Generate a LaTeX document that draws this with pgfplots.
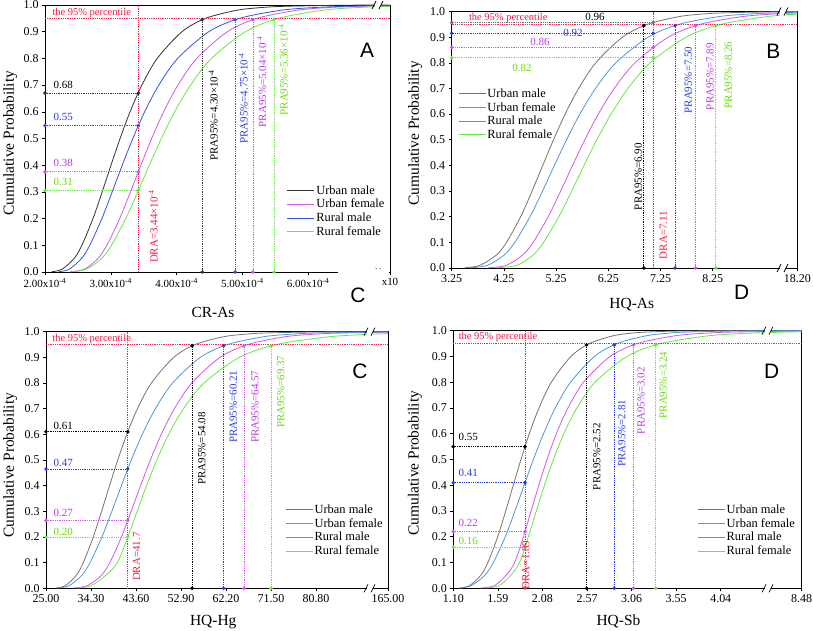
\documentclass[border=0pt]{standalone}
\usepackage{fontspec}
\setmainfont{Liberation Serif}
\newfontfamily\sansf{Liberation Sans}
\usepackage{pgfplots}
\pgfplotsset{compat=1.18}

\definecolor{cumA}{RGB}{50,50,50}
\definecolor{cumG}{RGB}{115,115,115}
\definecolor{cuf}{RGB}{205,90,235}
\definecolor{crmA}{RGB}{55,80,225}
\definecolor{crmB}{RGB}{80,150,220}
\definecolor{crf}{RGB}{105,230,70}
\definecolor{cred}{RGB}{240,40,80}
\definecolor{tmag}{RGB}{185,60,225}
\definecolor{tblu}{RGB}{40,60,220}
\definecolor{tgrn}{RGB}{110,215,20}
\definecolor{tred}{RGB}{240,30,70}

\newcommand{\fT}{\fontsize{12}{13}\selectfont}
\newcommand{\fL}{\fontsize{15.5}{17}\selectfont}
\newcommand{\fG}{\fontsize{12.5}{14}\selectfont}
\newcommand{\fN}{\fontsize{11}{12}\selectfont}
\newcommand{\fP}{\fontsize{10.5}{12}\selectfont}
\newcommand{\fB}{\sansf\fontsize{21}{24}\selectfont}
\newcommand{\sci}[1]{#1x10\textsuperscript{-4}}

\pgfplotsset{
 panel/.style={scale only axis, anchor=south west, ymin=0, ymax=1,
   ytick={0,0.1,0.2,0.3,0.4,0.5,0.6,0.7,0.8,0.9,1},
   yticklabels={0.0,0.1,0.2,0.3,0.4,0.5,0.6,0.7,0.8,0.9,1.0},
   tick align=outside, xtick pos=left, ytick pos=left,
   major tick length=3bp, tick style={black,line width=0.6pt},
   axis line style={line width=0.8pt},
   ticklabel style={font=\fT}, label style={font=\fL},
   clip=false,
   legend cell align=left,
   legend style={draw=none, fill=none, inner sep=0pt, row sep=0.5bp, font=\fG,
     anchor=north west, nodes={inner sep=1.5bp}},
   legend image code/.code={\draw[#1] (0bp,0bp) -- (27bp,0bp);},
 },
 cdf/.style={smooth, no marks, line width=0.8pt},
 red/.style={forget plot, densely dotted, cred, line width=0.8pt},
 hl/.style={forget plot, densely dotted, line width=0.8pt, mark=*, mark size=1.4pt, mark options={solid}},
}

\begin{document}
\begin{tikzpicture}
\useasboundingbox (0bp,0bp) rectangle (813bp,-631bp);

%%%%%%%%%%%%%%%% Panel A
\begin{axis}[panel, at={(45bp,-272bp)}, width=345bp, height=267bp,
  xmin=2, xmax=7.243,
  xtick={2,3,4,5,6,7.243},
  xticklabels={\sci{2.00},\sci{3.00},\sci{4.00},\sci{5.00},\sci{6.00},x10},
  xticklabel style={font=\fontsize{11}{12}\selectfont},
  xlabel={CR-As}, ylabel={Cumulative Probability},
  xlabel style={at={(axis description cs:0.487,-0.15)}, anchor=center},
  ylabel style={at={(axis description cs:-0.101,0.483)}, anchor=center},
  legend style={at={(0.701,0.33)}}]
\addplot[cdf, cumA] coordinates {(2.10,0.001) (2.255,0.01) (2.44,0.05) (2.56,0.1) (2.729,0.2) (2.869,0.3) (3.003,0.4) (3.141,0.5) (3.293,0.6) (3.472,0.7) (3.706,0.8) (4.081,0.9) (4.44,0.95) (4.909,0.98) (5.262,0.99) (5.62,0.995) (6.472,0.999) (7.243,1.0)};
\addlegendentry{Urban male}
\addplot[cdf, cuf] coordinates {(2.38,0.001) (2.596,0.01) (2.803,0.05) (2.94,0.1) (3.135,0.2) (3.299,0.3) (3.457,0.4) (3.621,0.5) (3.803,0.6) (4.02,0.7) (4.307,0.8) (4.771,0.9) (5.223,0.95) (5.818,0.98) (6.272,0.99) (6.738,0.995) (7.243,0.9976)};
\addlegendentry{Urban female}
\addplot[cdf, crmA] coordinates {(2.208,0.001) (2.363,0.01) (2.553,0.05) (2.68,0.1) (2.864,0.2) (3.021,0.3) (3.174,0.4) (3.335,0.5) (3.514,0.6) (3.73,0.7) (4.017,0.8) (4.489,0.9) (4.955,0.95) (5.576,0.98) (6.057,0.99) (6.552,0.995) (7.243,0.998)};
\addlegendentry{Rural male}
\addplot[cdf, crf] coordinates {(2.40,0.001) (2.627,0.01) (2.858,0.05) (3.01,0.1) (3.227,0.2) (3.41,0.3) (3.585,0.4) (3.768,0.5) (3.97,0.6) (4.212,0.7) (4.53,0.8) (5.046,0.9) (5.547,0.95) (6.207,0.98) (6.711,0.99) (7.243,0.995)};
\addlegendentry{Rural female}
\addplot[red] coordinates {(2,0.95) (7.243,0.95)};
\addplot[red] coordinates {(3.42,0) (3.42,1)};
\addplot[hl, cumA] coordinates {(2,0.67) (3.42,0.67)};
\addplot[hl, crmA] coordinates {(2,0.548) (3.42,0.548)};
\addplot[hl, cuf] coordinates {(2,0.375) (3.42,0.375)};
\addplot[hl, crf] coordinates {(2,0.306) (3.42,0.306)};
\addplot[hl, cumA] coordinates {(4.39,0) (4.39,0.945)};
\addplot[hl, crmA] coordinates {(4.89,0) (4.89,0.945)};
\addplot[hl, cuf] coordinates {(5.16,0) (5.16,0.945)};
\addplot[hl, crf] coordinates {(5.48,0) (5.48,0.945)};
\end{axis}

%%%%%%%%%%%%%%%% Panel B
\begin{axis}[panel, at={(451.7bp,-268bp)}, width=345.6bp, height=256.5bp,
  xmin=3.25, xmax=9.87,
  xtick={3.25,4.25,5.25,6.25,7.25,8.25,9.87},
  xticklabels={3.25,4.25,5.25,6.25,7.25,8.25,18.20},
  xlabel={HQ-As}, ylabel={Cumulative Probability},
  xlabel style={at={(axis description cs:0.521,-0.144)}, anchor=center},
  ylabel style={at={(axis description cs:-0.106,0.525)}, anchor=center},
  legend style={at={(0.018,0.706)}}]
\addplot[cdf, cumG] coordinates {(3.496,0.001) (3.784,0.01) (4.102,0.05) (4.30,0.1) (4.571,0.2) (4.789,0.3) (4.994,0.4) (5.20,0.5) (5.423,0.6) (5.681,0.7) (6.01,0.8) (6.522,0.9) (6.999,0.95) (7.602,0.98) (8.047,0.99) (8.488,0.995) (9.506,0.999) (9.87,1.0)};
\addlegendentry{Urban male}
\addplot[cdf, cuf] coordinates {(3.95,0.001) (4.289,0.01) (4.605,0.05) (4.81,0.1) (5.098,0.2) (5.337,0.3) (5.565,0.4) (5.8,0.5) (6.058,0.6) (6.363,0.7) (6.762,0.8) (7.399,0.9) (8.01,0.95) (8.806,0.98) (9.405,0.99) (9.87,0.994)};
\addlegendentry{Urban female}
\addplot[cdf, crmB] coordinates {(3.6,0.001) (3.929,0.01) (4.252,0.05) (4.46,0.1) (4.75,0.2) (4.99,0.3) (5.217,0.4) (5.45,0.5) (5.705,0.6) (6.005,0.7) (6.394,0.8) (7.013,0.9) (7.603,0.95) (8.364,0.98) (8.936,0.99) (9.512,0.995) (9.87,0.997)};
\addlegendentry{Rural male}
\addplot[cdf, crf] coordinates {(4.1,0.001) (4.492,0.01) (4.805,0.05) (5.01,0.1) (5.303,0.2) (5.548,0.3) (5.785,0.4) (6.03,0.5) (6.302,0.6) (6.625,0.7) (7.05,0.8) (7.739,0.9) (8.407,0.95) (9.285,0.98) (9.87,0.99)};
\addlegendentry{Rural female}
\addplot[red] coordinates {(3.25,0.95) (9.87,0.95)};
\addplot[red] coordinates {(7.11,0) (7.11,1)};
\addplot[hl, cumG] coordinates {(3.25,0.957) (7.11,0.957)};
\addplot[hl, tblu] coordinates {(3.25,0.915) (7.11,0.915)};
\addplot[hl, cuf] coordinates {(3.25,0.86) (7.11,0.86)};
\addplot[hl, crf] coordinates {(3.25,0.82) (7.11,0.82)};
\addplot[hl, black] coordinates {(6.93,0) (6.93,0.945)};
\addplot[hl, tblu] coordinates {(7.53,0) (7.53,0.945)};
\addplot[hl, cuf] coordinates {(7.92,0) (7.92,0.945)};
\addplot[hl, crf] coordinates {(8.31,0) (8.31,0.945)};
\end{axis}

%%%%%%%%%%%%%%%% Panel C
\begin{axis}[panel, at={(46bp,-588.3bp)}, width=342bp, height=256.6bp,
  xmin=25, xmax=95.68,
  xtick={25,34.3,43.6,52.9,62.2,71.5,80.8,95.68},
  xticklabels={25.00,34.30,43.60,52.90,62.20,71.50,80.80,165.00},
  xlabel={HQ-Hg}, ylabel={Cumulative Probability},
  xlabel style={at={(axis description cs:0.489,-0.13)}, anchor=center},
  ylabel style={at={(axis description cs:-0.105,0.48)}, anchor=center},
  legend style={at={(0.699,0.332)}}]
\addplot[cdf, cumG] coordinates {(27.0,0.001) (28.96,0.01) (31.23,0.05) (32.7,0.1) (34.77,0.2) (36.49,0.3) (38.14,0.4) (39.83,0.5) (41.7,0.6) (43.9,0.7) (46.78,0.8) (51.4,0.9) (55.82,0.95) (61.59,0.98) (65.94,0.99) (70.36,0.995) (80.86,0.999) (95.68,1.0)};
\addlegendentry{Urban male}
\addplot[cdf, cuf] coordinates {(30.5,0.001) (33.5,0.01) (36.4,0.05) (38.2,0.1) (40.58,0.2) (42.59,0.3) (44.54,0.4) (46.57,0.5) (48.83,0.6) (51.54,0.7) (55.12,0.8) (60.97,0.9) (66.69,0.95) (74.27,0.98) (80.09,0.99) (86.07,0.995) (95.68,0.998)};
\addlegendentry{Urban female}
\addplot[cdf, crmB] coordinates {(27.55,0.001) (29.75,0.01) (32.38,0.05) (34.1,0.1) (36.55,0.2) (38.61,0.3) (40.58,0.4) (42.63,0.5) (44.9,0.6) (47.61,0.7) (51.16,0.8) (56.91,0.9) (62.48,0.95) (69.8,0.98) (75.38,0.99) (81.07,0.995) (95.68,0.999)};
\addlegendentry{Rural male}
\addplot[cdf, crf] coordinates {(31.5,0.001) (34.3,0.01) (37.3,0.05) (39.75,0.1) (41.9,0.2) (43.83,0.3) (45.78,0.4) (47.9,0.5) (50.35,0.6) (53.41,0.7) (57.66,0.8) (64.97,0.9) (72.6,0.95) (83.32,0.98) (91.99,0.99) (95.68,0.9925)};
\addlegendentry{Rural female}
\addplot[red] coordinates {(25,0.95) (95.68,0.95)};
\addplot[red] coordinates {(41.9,0) (41.9,1)};
\addplot[hl, black] coordinates {(25,0.61) (41.9,0.61)};
\addplot[hl, tblu] coordinates {(25,0.465) (41.9,0.465)};
\addplot[hl, cuf] coordinates {(25,0.265) (41.9,0.265)};
\addplot[hl, crf] coordinates {(25,0.2) (41.9,0.2)};
\addplot[hl, black] coordinates {(55.2,0) (55.2,0.945)};
\addplot[hl, tblu] coordinates {(61.7,0) (61.7,0.945)};
\addplot[hl, cuf] coordinates {(65.9,0) (65.9,0.945)};
\addplot[hl, crf] coordinates {(71.5,0) (71.5,0.945)};
\end{axis}

%%%%%%%%%%%%%%%% Panel D
\begin{axis}[panel, at={(453.3bp,-588.3bp)}, width=348.4bp, height=257.6bp,
  xmin=1.10, xmax=4.93,
  xtick={1.10,1.59,2.08,2.57,3.06,3.55,4.04,4.93},
  xticklabels={1.10,1.59,2.08,2.57,3.06,3.55,4.04,8.48},
  xlabel={HQ-Sb}, ylabel={Cumulative Probability},
  xlabel style={at={(axis description cs:0.474,-0.13)}, anchor=center},
  ylabel style={at={(axis description cs:-0.11,0.486)}, anchor=center},
  legend style={at={(0.70,0.331)}}]
\addplot[cdf, cumG] coordinates {(1.166,0.001) (1.277,0.01) (1.401,0.05) (1.48,0.1) (1.588,0.2) (1.676,0.3) (1.759,0.4) (1.844,0.5) (1.935,0.6) (2.042,0.7) (2.178,0.8) (2.393,0.9) (2.595,0.95) (2.853,0.98) (3.044,0.99) (3.234,0.995) (3.679,0.999) (4.93,1.0)};
\addlegendentry{Urban male}
\addplot[cdf, cuf] coordinates {(1.40,0.001) (1.55,0.01) (1.68,0.05) (1.774,0.1) (1.871,0.2) (1.955,0.3) (2.04,0.4) (2.13,0.5) (2.233,0.6) (2.36,0.7) (2.532,0.8) (2.824,0.9) (3.121,0.95) (3.531,0.98) (3.855,0.99) (4.197,0.995) (4.93,0.9987)};
\addlegendentry{Urban female}
\addplot[cdf, crmB] coordinates {(1.163,0.001) (1.296,0.01) (1.445,0.05) (1.54,0.1) (1.671,0.2) (1.778,0.3) (1.878,0.4) (1.98,0.5) (2.092,0.6) (2.221,0.7) (2.389,0.8) (2.651,0.9) (2.899,0.95) (3.216,0.98) (3.451,0.99) (3.687,0.995) (4.238,0.999) (4.93,1.0)};
\addlegendentry{Rural male}
\addplot[cdf, crf] coordinates {(1.45,0.001) (1.60,0.01) (1.73,0.05) (1.828,0.1) (1.925,0.2) (2.012,0.3) (2.102,0.4) (2.2,0.5) (2.314,0.6) (2.458,0.7) (2.658,0.8) (3.008,0.9) (3.377,0.95) (3.901,0.98) (4.329,0.99) (4.789,0.995) (4.93,0.996)};
\addlegendentry{Rural female}
\addplot[red] coordinates {(1.10,0.95) (4.93,0.95)};
\addplot[red] coordinates {(1.888,0) (1.888,1)};
\addplot[forget plot, only marks, cred, mark=*, mark size=1.4pt] coordinates {(1.888,0)};
\addplot[hl, black] coordinates {(1.10,0.55) (1.888,0.55)};
\addplot[hl, tblu] coordinates {(1.10,0.41) (1.888,0.41)};
\addplot[hl, cuf] coordinates {(1.10,0.22) (1.888,0.22)};
\addplot[hl, crf] coordinates {(1.10,0.16) (1.888,0.16)};
\addplot[hl, black] coordinates {(2.566,0) (2.566,0.945)};
\addplot[hl, tblu] coordinates {(2.87,0) (2.87,0.945)};
\addplot[hl, cuf] coordinates {(3.08,0) (3.08,0.945)};
\addplot[hl, crf] coordinates {(3.325,0) (3.325,0.945)};
\end{axis}

%%%%%%%%%%%%%%%% annotations (absolute px positions)
\begin{scope}[x=1bp, y=-1bp]
\foreach \bx/\by in {378/5, 783/11.5, 783/268, 370/331.7, 370/588.3, 768/330.7, 768/588.3}{
  \fill[white] (\bx-3,\by-4) rectangle (\bx+3,\by+4);
  \draw[line width=0.7pt] (\bx-6,\by+4) -- (\bx-2,\by-4);
  \draw[line width=0.7pt] (\bx+1,\by+4) -- (\bx+5,\by-4);
}
\fill[white] (337.5,270.5) rectangle (389.3,273.5);
\fill[black] (376,268.5) circle (0.5);
\fill[black] (380,268.5) circle (0.5);

% Panel A
\node[font=\fP, text=tred] at (91.7,12.7) {the 95\% percentile};
\node[font=\fN] at (63.3,85) {0.68};
\node[font=\fN, text=tblu] at (63.3,117.3) {0.55};
\node[font=\fN, text=tmag] at (63.3,163.3) {0.38};
\node[font=\fN, text=tgrn] at (63.3,181.7) {0.31};
\node[font=\fN, rotate=90] at (213.3,115.1) {PRA95\%=4.30×10\textsuperscript{-4}};
\node[font=\fN, rotate=90, text=tblu] at (243.3,98.3) {PRA95\%=4.75×10\textsuperscript{-4}};
\node[font=\fN, rotate=90, text=tmag] at (261.7,81.7) {PRA95\%=5.04×10\textsuperscript{-4}};
\node[font=\fN, rotate=90, text=tgrn] at (283.3,70) {PRA95\%=5.36×10\textsuperscript{-4}};
\node[font=\fN, rotate=90, text=tred] at (153.3,226.7) {DRA=3.44×10\textsuperscript{-4}};
\node[font=\fB] at (367,50) {A};
\node[font=\fB] at (358,295) {C};

% Panel B
\node[font=\fP, text=tred] at (508.3,18.3) {the 95\% percentile};
\node[font=\fN] at (595,17) {0.96};
\node[font=\fN, text=tblu] at (573,33) {0.92};
\node[font=\fN, text=tmag] at (540,42) {0.86};
\node[font=\fN, text=tgrn] at (522,68) {0.82};
\node[font=\fN, rotate=90] at (638.3,176.7) {PRA95\%=6.90};
\node[font=\fN, rotate=90, text=tblu] at (688.3,80) {PRA95\%=7.50};
\node[font=\fN, rotate=90, text=tmag] at (710,76.7) {PRA95\%=7.89};
\node[font=\fN, rotate=90, text=tgrn] at (728.3,75) {PRA95\%=8.26};
\node[font=\fN, rotate=90, text=tred] at (663.3,235) {DRA=7.11};
\node[font=\fB] at (773.3,51.7) {B};
\node[font=\fB] at (741.7,292.7) {D};

% Panel C
\node[font=\fP, text=tred] at (91.7,339) {the 95\% percentile};
\node[font=\fN] at (63.3,426) {0.61};
\node[font=\fN, text=tblu] at (63.3,462.7) {0.47};
\node[font=\fN, text=tmag] at (63.3,513.3) {0.27};
\node[font=\fN, text=tgrn] at (63.3,531.7) {0.20};
\node[font=\fN, rotate=90] at (201.7,448.3) {PRA95\%=54.08};
\node[font=\fN, rotate=90, text=tblu] at (233.3,406.7) {PRA95\%=60.21};
\node[font=\fN, rotate=90, text=tmag] at (255,406.7) {PRA95\%=64.57};
\node[font=\fN, rotate=90, text=tgrn] at (280.7,391.7) {PRA95\%=69.37};
\node[font=\fN, rotate=90, text=tred] at (136.7,556.7) {DRA=41.7};
\node[font=\fB] at (360,371.7) {C};

% Panel D
\node[font=\fP, text=tred] at (498,336.7) {the 95\% percentile};
\node[font=\fN] at (468.3,436.7) {0.55};
\node[font=\fN, text=tblu] at (468.3,473.3) {0.41};
\node[font=\fN, text=tmag] at (468.3,523.3) {0.22};
\node[font=\fN, text=tgrn] at (468.3,540.7) {0.16};
\node[font=\fN, rotate=90] at (596.7,456.7) {PRA95\%=2.52};
\node[font=\fN, rotate=90, text=tblu] at (621.7,433.3) {PRA95\%=2.81};
\node[font=\fN, rotate=90, text=tmag] at (641,400.7) {PRA95\%=3.02};
\node[font=\fN, rotate=90, text=tgrn] at (663.3,385) {PRA95\%=3.24};
\node[font=\fN, rotate=90, text=tred] at (525.7,565) {DRA=1.89};
\node[font=\fB] at (771.7,371.7) {D};
\end{scope}
\end{tikzpicture}
\end{document}
